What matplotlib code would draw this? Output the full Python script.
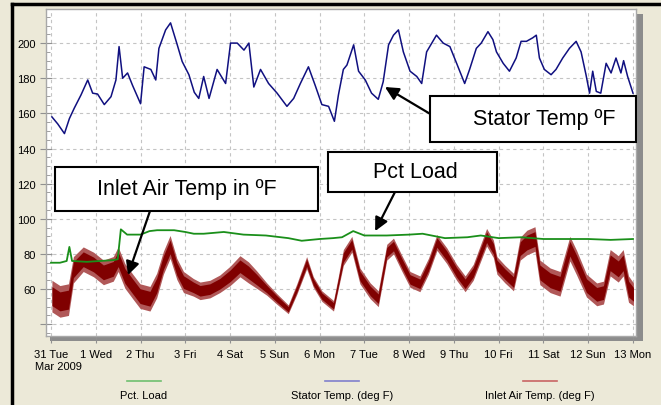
import numpy as np
import matplotlib
matplotlib.use("Agg")
import matplotlib.pyplot as plt
from matplotlib.patches import Rectangle
from matplotlib.lines import Line2D

plt.rcParams['font.family'] = ['Liberation Sans', 'DejaVu Sans']

# x axis: days since 31 Mar 2009
day_labels = ['31 Tue', '1 Wed', '2 Thu', '3 Fri', '4 Sat', '5 Sun', '6 Mon',
              '7 Tue', '8 Wed', '9 Thu', '10 Fri', '11 Sat', '12 Sun', '13 Mon']

stator_t = [0.02, 0.15, 0.30, 0.41, 0.52, 0.67, 0.82, 0.93, 1.04, 1.19, 1.34, 1.45, 1.52, 1.60,
            1.71, 1.82, 2.00, 2.08, 2.23, 2.34, 2.41, 2.56, 2.67, 2.82, 2.93, 3.08, 3.20, 3.30,
            3.41, 3.53, 3.71, 3.90, 4.01, 4.16, 4.31, 4.42, 4.53, 4.68, 4.86, 5.05, 5.27, 5.42,
            5.57, 5.75, 5.90, 6.05, 6.20, 6.33, 6.42, 6.53, 6.61, 6.76, 6.87, 7.02, 7.16, 7.31,
            7.42, 7.54, 7.65, 7.76, 7.87, 8.02, 8.17, 8.28, 8.39, 8.61, 8.76, 8.91, 9.06, 9.24,
            9.35, 9.50, 9.61, 9.76, 9.87, 9.95, 10.10, 10.24, 10.39, 10.50, 10.62, 10.76, 10.84,
            10.91, 11.02, 11.17, 11.28, 11.43, 11.58, 11.73, 11.84, 11.95, 12.03, 12.10, 12.18,
            12.28, 12.40, 12.51, 12.62, 12.73, 12.79, 12.88, 13.00]
stator_val = [158, 154, 148.5, 157, 163, 170.5, 179, 171.5, 171, 165, 169.5, 179, 198, 180,
              183, 176, 165.5, 186.5, 185, 179, 197, 207.5, 211.5, 199, 189.5, 182, 172, 168.5,
              181, 168.5, 185, 177, 200, 200, 196, 200, 175, 185, 177, 171.5, 164, 168.5,
              177, 186.5, 176, 165, 164, 155.5, 170.5, 185, 187.5, 199, 184, 179, 171.5, 168,
              178, 199, 204.5, 207.5, 195, 184, 181, 177, 195, 204.5, 200, 198, 188.5, 177,
              185, 197, 200, 206.5, 202, 195, 188.5, 184, 191.5, 201, 201, 203, 204.5,
              191.5, 185, 182, 185, 191.5, 197, 201, 195, 182, 171.5, 184, 172.5,
              171.5, 188.5, 183, 191.5, 183, 190, 181, 171.5]

load_t = [0.0, 0.2, 0.35, 0.41, 0.47, 0.8, 1.1, 1.4, 1.49, 1.56, 1.7, 2.0, 2.2, 2.37, 2.75,
          3.0, 3.19, 3.41, 3.86, 4.3, 4.8, 5.3, 5.6, 6.0, 6.3, 6.5, 6.75, 7.0, 7.5, 8.0, 8.3,
          8.8, 9.3, 9.6, 10.0, 10.5, 11.0, 11.5, 12.0, 12.5, 13.0]
load_val = [75, 75, 76, 84, 76, 75.5, 76, 76.5, 77, 94, 91, 91, 93, 93.5, 93.5,
            92.5, 91.5, 91.5, 92.5, 91, 90.5, 89, 87.5, 88.5, 89, 89.5, 93, 90.5, 90.5, 91, 91.5,
            89, 89.5, 90.5, 89, 89.5, 88.5, 88.5, 88.5, 88, 88.5]

inlet_t = [0.02, 0.20, 0.39, 0.50, 0.72, 0.95, 1.17, 1.39, 1.50, 1.65, 1.84, 1.99, 2.21, 2.36,
           2.51, 2.66, 2.81, 2.96, 3.18, 3.33, 3.55, 3.77, 4.00, 4.22, 4.41, 4.59, 4.82, 5.04,
           5.30, 5.49, 5.71, 5.86, 6.05, 6.31, 6.42, 6.53, 6.72, 6.90, 7.13, 7.31, 7.50, 7.65,
           7.83, 8.02, 8.24, 8.43, 8.62, 8.84, 9.06, 9.25, 9.43, 9.73, 9.88, 9.96, 10.14, 10.33,
           10.48, 10.63, 10.81, 10.92, 11.15, 11.37, 11.59, 11.74, 11.96, 12.19, 12.34, 12.49,
           12.67, 12.78, 12.90, 13.01]
inlet_val = [56, 53, 54, 71, 77, 74, 69.5, 71.5, 77, 67.5, 61, 56, 54.5, 62,
             75, 84, 71.5, 64, 61, 59, 60, 63, 67.5, 73, 69.5, 65.5, 60, 54.5,
             48.5, 60, 75, 64, 56, 50.5, 64, 78, 85.5, 67.5, 59, 54.5, 81, 84.5,
             75, 65.5, 63, 73, 86.5, 79, 69.5, 63, 69.5, 89.5, 83, 73.5, 68.5, 64,
             83, 86.5, 88.5, 69.5, 65, 63, 83, 75, 62, 57, 58, 75,
             71.5, 75, 60, 57]
# half height of the noise band around the inlet trace
inlet_spread = [9, 9, 9, 7.5, 7, 7, 7, 7, 7, 7, 7, 7, 7, 7,
                6.5, 6.5, 6, 6, 5, 5, 5, 5, 5.5, 6, 6, 5, 3.5, 3,
                2.5, 3, 3.5, 3, 3, 3, 3.5, 4.5, 4.5, 4.5, 4.5, 4.5, 4.5, 4.5,
                4.5, 4.5, 4.5, 4.5, 4.5, 4.5, 4.5, 4.5, 4.5, 5, 5, 5, 5, 5,
                6.5, 7, 7, 7, 7, 7, 7, 7, 6.5, 6.5, 6.5, 7.5,
                7.5, 7.5, 7.5, 6.5]

W, H = 661, 406

def fx(px):
    return px / W

def fy(py):
    return 1 - py / H

bg = '#ECE9D8'
fig = plt.figure(figsize=(W / 100, H / 100), dpi=100, facecolor=bg)

# plot area shadow
fig.add_artist(Rectangle((fx(637), fy(342)), fx(6), fy(15) - fy(342), transform=fig.transFigure,
                         facecolor='#8c8c8c', edgecolor='none', zorder=-1))
fig.add_artist(Rectangle((fx(50), fy(342)), fx(593), fy(336) - fy(342), transform=fig.transFigure,
                         facecolor='#8c8c8c', edgecolor='none', zorder=-1))

ax = fig.add_axes([fx(46), fy(337), fx(590), fy(10) - fy(337)])
ax.set_facecolor('white')
for s in ax.spines.values():
    s.set_color('#a8a8a8')
    s.set_linewidth(1)

t_stator = np.array(stator_t)
t_inlet = np.array(inlet_t)
inlet = np.array(inlet_val)
spread = np.array(inlet_spread)

# noisy inlet trace: light outer band, dark core
ax.fill_between(t_inlet, inlet - spread, inlet + spread, color='#b05858', lw=0, zorder=2)
ax.fill_between(t_inlet, inlet - spread * 0.6, inlet + spread * 0.6, color='#800000', lw=0, zorder=2)
ax.plot(load_t, load_val, color='#1a8f1a', lw=1.3, zorder=3)
ax.plot(t_stator, stator_val, color='#101080', lw=1.1, zorder=3)

ax.set_xlim(-0.112, 13.067)
ax.set_ylim(33.3, 219.4)
ax.set_xticks(range(len(day_labels)))
ax.set_xticklabels(day_labels)
ax.set_yticks(range(40, 201, 20))
ax.set_yticklabels([''] + [str(v) for v in range(60, 201, 20)])
ax.set_yticks(range(35, 220, 5), minor=True)
ax.tick_params(axis='x', direction='out', length=5, color='#909090', labelsize=8, pad=4)
ax.tick_params(axis='y', which='major', direction='inout', length=9, color='#909090', labelsize=8, pad=3)
ax.tick_params(axis='y', which='minor', direction='in', length=3, color='#909090')
ax.grid(True, color='#c4c4c4', linestyle=(0, (3, 3)), linewidth=0.8)
ax.set_axisbelow(True)

fig.text(fx(35), fy(367), 'Mar 2009', fontsize=8, ha='left', va='center')

# black frame on the left and top
fig.add_artist(Line2D([fx(12), fx(12)], [0, fy(5)], transform=fig.transFigure, color='black', lw=2.5))
fig.add_artist(Line2D([fx(12), 1], [fy(5), fy(5)], transform=fig.transFigure, color='black', lw=2.5))

# callout boxes
def callout(x0, y0, x1, y1, text, tx):
    fig.add_artist(Rectangle((fx(x0), fy(y1)), fx(x1 - x0), fy(y0) - fy(y1), transform=fig.transFigure,
                             facecolor='white', edgecolor='black', lw=1.5, zorder=5))
    fig.text(fx(tx), fy((y0 + y1) / 2), text, fontsize=15.5, ha='center', va='center', zorder=6)

callout(430, 97, 636, 143, 'Stator Temp ºF', 544)
callout(55, 168, 318, 212, 'Inlet Air Temp in ºF', 187)
callout(328, 153, 497, 193, 'Pct Load', 415)

arrow = dict(arrowstyle='-|>', color='black', lw=1.6, mutation_scale=20, shrinkA=0, shrinkB=0)
ax.annotate('', xy=(7.46, 175), xycoords='data', xytext=(fx(432), fy(116)), textcoords='figure fraction',
            arrowprops=arrow, zorder=4)
ax.annotate('', xy=(1.72, 68), xycoords='data', xytext=(fx(150), fy(212)), textcoords='figure fraction',
            arrowprops=arrow, zorder=4)
ax.annotate('', xy=(7.24, 93), xycoords='data', xytext=(fx(395), fy(193)), textcoords='figure fraction',
            arrowprops=arrow, zorder=4)

# legend under the plot
legend_items = [('Pct. Load', '#6fbf6f', 144), ('Stator Temp. (deg F)', '#8080cc', 342),
                ('Inlet Air Temp. (deg F)', '#c86464', 540)]
for label, col, cx in legend_items:
    fig.add_artist(Line2D([fx(cx - 17), fx(cx + 17)], [fy(382), fy(382)], transform=fig.transFigure,
                          color=col, lw=1.2))
    fig.text(fx(cx), fy(396), label, fontsize=8, ha='center', va='center')

fig.savefig('out.png', dpi=100, facecolor=bg)
